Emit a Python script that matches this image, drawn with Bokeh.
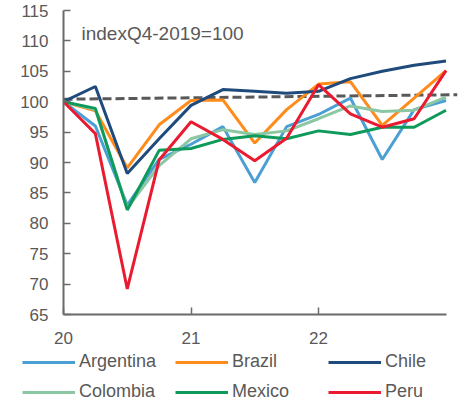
from bokeh.plotting import figure
from bokeh.models import (FixedTicker, Legend, LegendItem, Label, CustomJSTickFormatter)
from bokeh.embed import file_html
from bokeh.resources import INLINE

# ---- data ----
quarters = [20.0, 20.25, 20.5, 20.75, 21.0, 21.25, 21.5, 21.75, 22.0, 22.25, 22.5, 22.75, 23.0]
argentina = [100, 96.0, 83.0, 90.5, 93.0, 95.9, 86.7, 95.9, 97.9, 100.6, 90.5, 98.7, 100.2]
brazil = [100, 98.5, 89.1, 96.2, 100.2, 100.3, 93.2, 98.7, 102.9, 103.3, 96.1, 100.6, 105.1]
chile = [100, 102.5, 88.2, 93.9, 99.4, 102.0, 101.7, 101.4, 101.7, 103.8, 105.0, 106.0, 106.7]
colombia = [100, 98.7, 82.5, 89.5, 93.9, 95.4, 94.6, 95.2, 97.2, 99.3, 98.4, 98.6, 100.75]
mexico = [100, 98.9, 82.2, 92.0, 92.3, 93.8, 94.4, 93.9, 95.2, 94.6, 95.8, 95.8, 98.6]
peru = [100, 94.75, 69.2, 90.4, 96.7, 93.8, 90.3, 94.0, 102.8, 98.0, 95.8, 97.2, 105.1]
trend_x = [20.0, 23.09]
trend_y = [100.4, 101.15]

series_names = ["Argentina", "Brazil", "Chile", "Colombia", "Mexico", "Peru"]
series_values = [argentina, brazil, chile, colombia, mexico, peru]
series_colors = ["#4A9FD5", "#FF8B1A", "#1F4A7C", "#8BC7A2", "#0E9A5A", "#EA1B31"]

y_ticks = [65, 70, 75, 80, 85, 90, 95, 100, 105, 110, 115]
x_ticks = [20, 21, 22]
title_text = "indexQ4-2019=100"

FONT = "Liberation Sans"
TXT = "#595959"
AXC = "#6b6b6b"

p = figure(width=461, height=346, frame_width=394, frame_height=304,
           x_range=(20, 23.09), y_range=(65, 115),
           output_backend="svg", toolbar_location=None,
           min_border_left=63, min_border_right=4, min_border_top=10, min_border_bottom=32)
p.outline_line_color = None
p.grid.visible = False
p.background_fill_color = "white"
p.border_fill_color = "white"

# axes
p.xaxis.ticker = FixedTicker(ticks=x_ticks)
p.xaxis.bounds = (20, 23)
p.xaxis.formatter = CustomJSTickFormatter(code="return String(Math.round(tick));")
p.yaxis.ticker = FixedTicker(ticks=y_ticks)
p.yaxis.bounds = (65, 115)
for ax in (p.xaxis, p.yaxis):
    ax.axis_line_color = AXC
    ax.axis_line_width = 2
    ax.major_tick_line_color = AXC
    ax.major_tick_line_width = 1.5
    ax.major_tick_in = 7
    ax.major_tick_out = 0
    ax.minor_tick_line_color = None
    ax.major_label_text_font = FONT
    ax.major_label_text_font_size = "17px"
    ax.major_label_text_color = TXT
p.yaxis.major_label_standoff = 15
p.xaxis.major_label_standoff = 17

# trend dashed line
p.line(trend_x, trend_y, line_color="#595959", line_width=3, line_dash="9 4")

for name, vals, col in zip(series_names, series_values, series_colors):
    p.line(quarters, vals, line_color=col, line_width=3)

p.add_layout(Label(x=20.141, y=111.17, text=title_text, text_font=FONT,
                   text_font_size="19px", text_color=TXT,
                   text_baseline="alphabetic"))

# ---- legend strip below the chart (separate root, series kept out of view) ----
q = figure(width=461, height=58, x_range=(0, 1), y_range=(0, 1),
           output_backend="svg", toolbar_location=None,
           min_border_left=0, min_border_right=0, min_border_top=0, min_border_bottom=0,
           x_axis_type=None, y_axis_type=None)
q.outline_line_color = None
q.grid.visible = False
q.border_fill_color = "white"
items = []
for name, vals, col in zip(series_names, series_values, series_colors):
    r = q.line(quarters, vals, line_color=col, line_width=3)
    items.append(LegendItem(label=name, renderers=[r]))

legend = Legend(items=items, location=(22, 2), orientation="horizontal", ncols=3,
                glyph_width=53, glyph_height=20, label_height=20, label_width=87,
                label_standoff=4, spacing=9, padding=0, margin=0,
                border_line_color=None, background_fill_alpha=0,
                label_text_font=FONT, label_text_font_size="18px",
                label_text_color=TXT)
q.add_layout(legend, "center")

open("out.html", "w").write(file_html([p, q], INLINE))
